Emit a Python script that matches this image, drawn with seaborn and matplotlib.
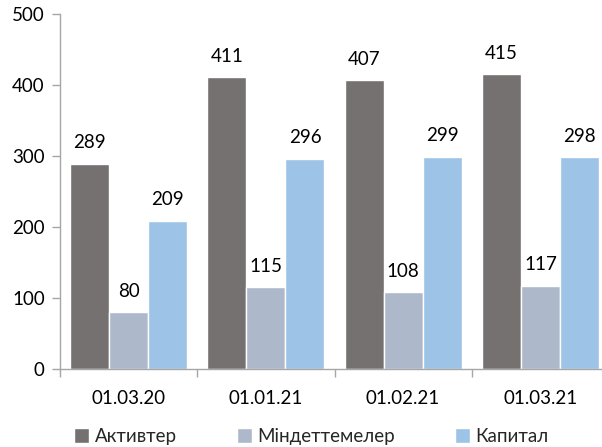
import matplotlib
matplotlib.use("Agg")
import matplotlib.pyplot as plt
import seaborn as sns
import pandas as pd

dates = ["01.03.20", "01.01.21", "01.02.21", "01.03.21"]
series = ["Активтер", "Міндеттемелер", "Капитал"]
assets = [289, 411, 407, 415]
liabilities = [80, 115, 108, 117]
capital = [209, 296, 299, 298]
colors = ["#767171", "#ADB9CA", "#9DC3E6"]
yticks = [0, 100, 200, 300, 400, 500]

df = pd.DataFrame({
    "date": dates * 3,
    "series": [series[0]] * 4 + [series[1]] * 4 + [series[2]] * 4,
    "value": assets + liabilities + capital,
})

sns.set_theme(style="white")
plt.rcParams["font.family"] = ["Lato", "DejaVu Sans"]

axis_color = "#A6A6A6"
fs = 13.5

fig = plt.figure(figsize=(6.02, 4.47), dpi=100)
ax = fig.add_axes([60 / 602, 1 - 369 / 447, 549 / 602, 355 / 447])

sns.barplot(data=df, x="date", y="value", hue="series", order=dates,
            hue_order=series, palette=colors, saturation=1, width=0.854,
            gap=0, ax=ax, legend=True, errorbar=None)

for cont in ax.containers:
    ax.bar_label(cont, fmt="%d", padding=9, fontsize=fs, color="#000000")

ax.set_ylim(0, 500)
ax.set_xlim(-0.5, 3.5)
ax.set_yticks(yticks)
ax.set_yticklabels([str(v) for v in yticks], fontsize=fs)
ax.tick_params(axis="y", length=6, width=1, color=axis_color, pad=5,
               left=True, labelcolor="#000000")

# Category labels at minor ticks, separators at major ticks
ax.set_xticks([i + 0.5 for i in range(-1, 4)])
ax.set_xticklabels([])
ax.set_xticks(range(len(dates)), minor=True)
ax.set_xticklabels(dates, minor=True, fontsize=fs)
ax.tick_params(axis="x", which="major", length=6, width=1, color=axis_color,
               bottom=True)
ax.tick_params(axis="x", which="minor", length=0, pad=15, labelcolor="#000000")

ax.set_xlabel("")
ax.set_ylabel("")
for side in ["top", "right"]:
    ax.spines[side].set_visible(False)
for side in ["left", "bottom"]:
    ax.spines[side].set_color(axis_color)
    ax.spines[side].set_linewidth(1)

handles, labels = ax.get_legend_handles_labels()
ax.legend(handles, labels, loc="center", bbox_to_anchor=(0.458, -0.19),
          bbox_transform=ax.transAxes, ncol=3, frameon=False, fontsize=fs,
          handlelength=0.8, handleheight=0.8, handletextpad=0.3,
          columnspacing=3.2)

fig.savefig("out.png", dpi=100)
